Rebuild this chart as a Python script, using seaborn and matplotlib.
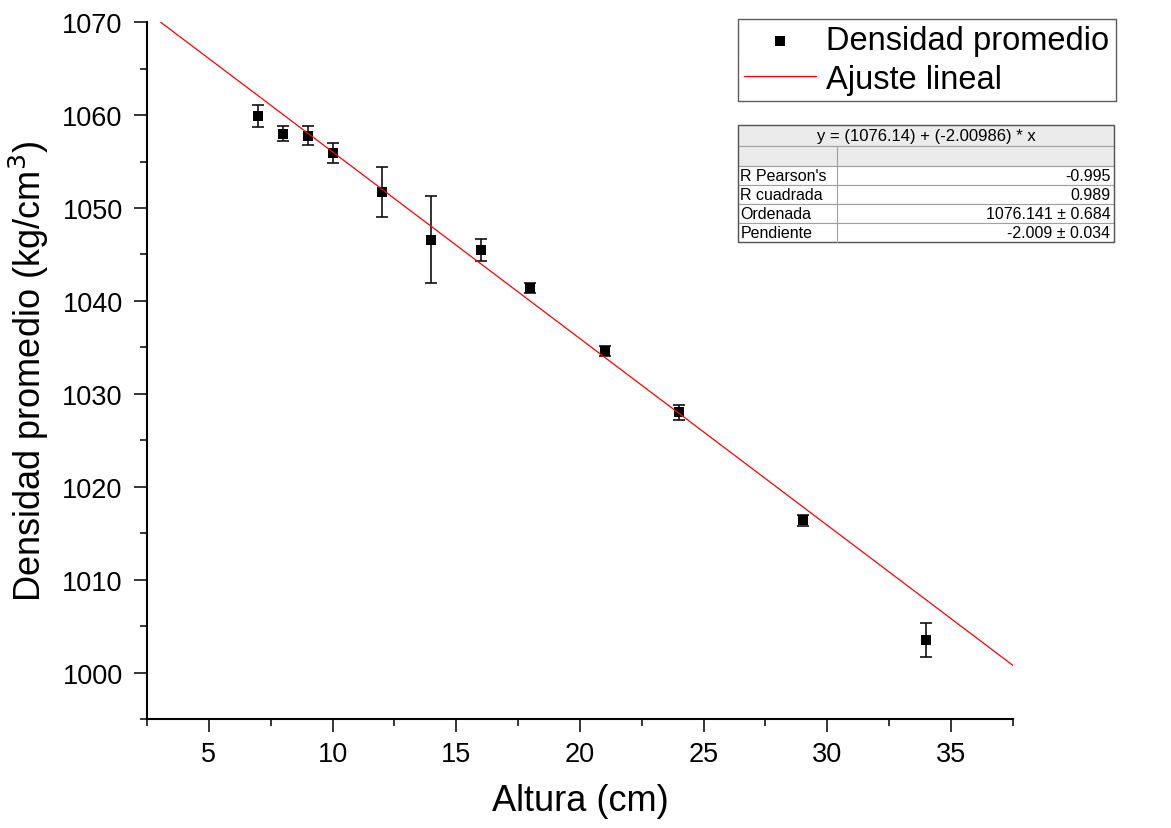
import numpy as np
import pandas as pd
import matplotlib.pyplot as plt
import seaborn as sns
from matplotlib.patches import Rectangle
from matplotlib.ticker import MultipleLocator

# Datos
altura = [7, 8, 9, 10, 12, 14, 16, 18, 21, 24, 29, 34]
densidad = [1059.9, 1058.0, 1057.8, 1055.9, 1051.7, 1046.6, 1045.5, 1041.4, 1034.6, 1028.0, 1016.4, 1003.5]
error = [1.2, 0.8, 1.0, 1.1, 2.7, 4.7, 1.15, 0.5, 0.55, 0.8, 0.6, 1.8]

# Ajuste lineal (valores de la tabla)
ordenada = 1076.14
pendiente = -2.00986
rango_ajuste = [3.0, 37.5]

tabla_titulo = "y = (1076.14) + (-2.00986) * x"
tabla_filas = ["R Pearson's", "R cuadrada", "Ordenada", "Pendiente"]
tabla_valores = ["-0.995", "0.989", "1076.141 \u00b1 0.684", "-2.009 \u00b1 0.034"]

df = pd.DataFrame({"altura": altura, "densidad": densidad, "error": error})
x_fit = np.array(rango_ajuste)
df_fit = pd.DataFrame({"altura": x_fit, "densidad": ordenada + pendiente * x_fit})

sns.set_style("ticks")
plt.rcParams['font.family'] = ['Liberation Sans', 'DejaVu Sans']
plt.rcParams['text.color'] = 'black'
plt.rcParams['axes.labelcolor'] = 'black'

fig = plt.figure(figsize=(11.71, 8.29), dpi=100)
ax = fig.add_axes([0.1255, 0.1315, 0.7395, 0.8405])

ax.errorbar(df["altura"], df["densidad"], yerr=df["error"], fmt="none",
            ecolor="#111111", elinewidth=1.2, capsize=4.6, capthick=1.2, zorder=2)
sns.scatterplot(data=df, x="altura", y="densidad", marker="s", s=48, color="black",
                edgecolor="black", linewidth=0, ax=ax, zorder=3, label="Densidad promedio")
sns.lineplot(data=df_fit, x="altura", y="densidad", color="red", linewidth=0.9,
             ax=ax, zorder=4, label="Ajuste lineal")

ax.set_xlim(2.5, 37.5)
ax.set_ylim(995, 1070)
ax.xaxis.set_major_locator(MultipleLocator(5))
ax.xaxis.set_minor_locator(MultipleLocator(2.5))
ax.yaxis.set_major_locator(MultipleLocator(10))
ax.yaxis.set_minor_locator(MultipleLocator(5))
ax.tick_params(which="major", direction="out", length=9.5, width=1.1, labelsize=19.5, colors="black")
ax.tick_params(which="minor", direction="out", length=5, width=1.1, colors="black")
ax.tick_params(axis="x", pad=6)
ax.tick_params(axis="y", pad=8)
for s in ["top", "right"]:
    ax.spines[s].set_visible(False)
for s in ["left", "bottom"]:
    ax.spines[s].set_linewidth(1.5)
    ax.spines[s].set_color("black")

ax.set_xlabel("Altura (cm)", fontsize=26, labelpad=12)
ax.set_ylabel("Densidad promedio (kg/cm$^3$)", fontsize=26, labelpad=8)

# Leyenda
handles, labels = ax.get_legend_handles_labels()
ax.get_legend().remove()
fig.legend(handles, labels, loc="upper left", bbox_to_anchor=(0.630, 0.976),
           fontsize=23.5, frameon=True, fancybox=False, edgecolor="#333333",
           handlelength=2.2, handletextpad=0.3, borderpad=0.2, borderaxespad=0,
           labelspacing=0.22)

# Tabla de ajuste
tx0, tx1 = 738 / 1171, 1114 / 1171
ty_top = 1 - 126 / 829
alturas_px = [21, 20, 19, 19, 19, 19]
col_split = 837 / 1171
borde = "#a0a0a0"
y = ty_top
filas = [("titulo", None)] + [("vacio", None)] + list(zip(tabla_filas, tabla_valores))
for i, (h_px, fila) in enumerate(zip(alturas_px, filas)):
    h = h_px / 829
    y0 = y - h
    fondo = "#ebebeb" if i < 2 else "white"
    fig.add_artist(Rectangle((tx0, y0), tx1 - tx0, h, transform=fig.transFigure,
                             facecolor=fondo, edgecolor=borde, linewidth=0.8))
    if i == 0:
        fig.text((tx0 + tx1) / 2, y0 + h / 2, tabla_titulo, ha="center", va="center", fontsize=12)
    else:
        fig.add_artist(plt.Line2D([col_split, col_split], [y0, y0 + h], transform=fig.transFigure,
                                  color=borde, linewidth=0.8))
        if i >= 2:
            fig.text(tx0 + 0.002, y0 + h / 2, fila[0], ha="left", va="center", fontsize=11.5)
            fig.text(tx1 - 0.003, y0 + h / 2, fila[1], ha="right", va="center", fontsize=11.5)
    y = y0
fig.add_artist(Rectangle((tx0, y), tx1 - tx0, ty_top - y, transform=fig.transFigure,
                         facecolor="none", edgecolor="#555555", linewidth=1.0))

fig.savefig("out.png", dpi=100)
